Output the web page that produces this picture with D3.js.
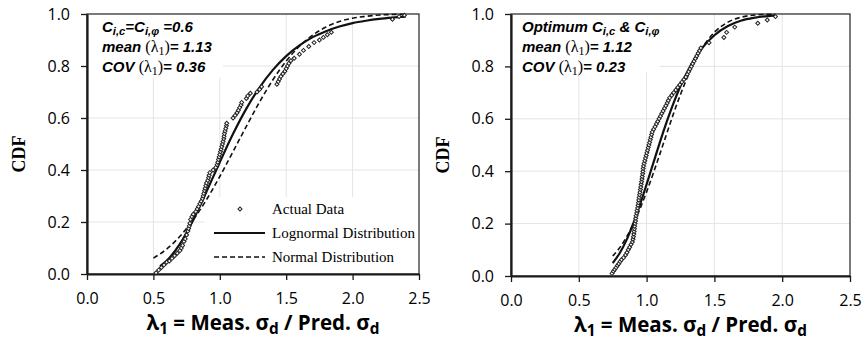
<!DOCTYPE html>
<html>
<head>
<meta charset="utf-8">
<script src="https://cdn.jsdelivr.net/npm/d3@7/dist/d3.min.js"></script>
<style>
  body { margin: 0; background: #fff; }
  svg text { fill: #000; }
</style>
</head>
<body>
<svg id="chart" width="864" height="350"></svg>
<script>
// axis ticks (both panels)
const xTicks = [0, 0.5, 1, 1.5, 2, 2.5];
const yTicks = [0, 0.2, 0.4, 0.6, 0.8, 1.0];

// left panel: C_i,c = C_i,phi = 0.6   [lambda1, CDF]
const leftActual = [
  [0.52,0.005],[0.54,0.015],[0.56,0.025],[0.58,0.035],[0.60,0.045],[0.62,0.05],[0.64,0.06],[0.66,0.07],[0.68,0.08],[0.70,0.09],
  [0.71,0.10],[0.72,0.11],[0.73,0.125],[0.74,0.135],[0.75,0.15],[0.76,0.165],[0.765,0.175],[0.77,0.185],[0.775,0.195],[0.78,0.21],
  [0.79,0.22],[0.80,0.23],[0.82,0.24],[0.83,0.25],[0.84,0.26],[0.85,0.27],
  [0.86,0.28],[0.87,0.29],[0.875,0.30],[0.88,0.31],[0.885,0.32],[0.89,0.33],[0.895,0.34],[0.90,0.35],[0.91,0.36],[0.915,0.37],[0.92,0.38],[0.925,0.39],
  [0.95,0.40],[0.97,0.41],[0.98,0.42],[0.985,0.43],[0.99,0.44],[0.995,0.45],[1.00,0.46],[1.005,0.47],[1.01,0.48],[1.015,0.49],[1.02,0.50],
  [1.025,0.51],[1.03,0.52],[1.032,0.53],[1.035,0.54],[1.04,0.55],[1.045,0.56],[1.05,0.57],[1.052,0.58],
  [1.10,0.60],[1.115,0.61],[1.13,0.62],[1.14,0.63],[1.15,0.64],[1.16,0.65],[1.165,0.66],
  [1.20,0.675],[1.21,0.685],[1.23,0.695],
  [1.28,0.70],[1.30,0.71],[1.315,0.72],
  [1.43,0.73],[1.44,0.74],[1.45,0.75],[1.46,0.76],[1.475,0.77],[1.49,0.78],[1.50,0.79],[1.51,0.80],[1.52,0.81],[1.535,0.82],
  [1.56,0.83],[1.60,0.845],[1.63,0.86],[1.67,0.875],[1.71,0.89],[1.75,0.90],[1.78,0.91],[1.81,0.92],[1.84,0.93],
  [2.30,0.98],[2.35,0.99],[2.39,0.995]
];
const leftLognormal = [
  [0.55,0.030],[0.6,0.051],[0.7,0.116],[0.8,0.208],[0.9,0.317],[1.0,0.430],[1.1,0.539],[1.2,0.636],[1.3,0.718],[1.4,0.785],
  [1.5,0.838],[1.6,0.879],[1.7,0.911],[1.8,0.934],[1.9,0.952],[2.0,0.965],[2.1,0.974],[2.2,0.981],[2.3,0.986],[2.4,0.990]
];
const leftNormal = [
  [0.5,0.061],[0.6,0.096],[0.7,0.145],[0.8,0.209],[0.9,0.286],[1.0,0.375],[1.1,0.471],[1.2,0.568],[1.3,0.662],[1.4,0.747],
  [1.5,0.819],[1.6,0.876],[1.7,0.919],[1.8,0.950],[1.9,0.971],[2.0,0.984],[2.1,0.991],[2.2,0.996],[2.3,0.998],[2.4,0.999]
];
const leftMean = "1.13", leftCov = "0.36";

// right panel: optimum C_i,c & C_i,phi
const rightActual = [
  [0.745,0.01],[0.755,0.018],[0.765,0.025],[0.775,0.032],[0.785,0.04],[0.795,0.047],[0.805,0.055],[0.815,0.062],[0.83,0.07],[0.845,0.08],
  [0.855,0.09],[0.865,0.10],[0.875,0.11],[0.885,0.12],[0.895,0.13],[0.90,0.14],
  [0.903,0.15],[0.906,0.16],[0.908,0.17],[0.91,0.18],[0.912,0.19],[0.915,0.20],[0.918,0.21],[0.92,0.22],[0.923,0.23],[0.927,0.24],
  [0.93,0.25],[0.934,0.26],[0.937,0.27],[0.94,0.28],[0.942,0.29],
  [0.945,0.30],[0.948,0.31],[0.951,0.32],[0.954,0.33],[0.957,0.34],[0.96,0.35],[0.963,0.36],[0.966,0.37],[0.968,0.38],[0.971,0.39],
  [0.973,0.40],[0.975,0.41],[0.977,0.42],
  [0.982,0.43],[0.987,0.44],[0.992,0.45],[0.997,0.46],[1.002,0.47],[1.007,0.48],[1.012,0.49],[1.017,0.50],[1.022,0.51],[1.027,0.52],
  [1.032,0.53],[1.037,0.54],[1.042,0.55],
  [1.052,0.56],[1.062,0.57],[1.072,0.58],[1.082,0.59],[1.092,0.60],[1.102,0.61],[1.112,0.62],[1.122,0.63],[1.132,0.64],[1.142,0.65],
  [1.152,0.66],[1.16,0.67],[1.17,0.68],
  [1.185,0.69],[1.20,0.70],[1.215,0.71],[1.23,0.72],[1.245,0.73],[1.26,0.74],[1.275,0.75],[1.29,0.76],[1.30,0.77],
  [1.31,0.78],[1.32,0.79],[1.33,0.80],[1.34,0.81],[1.35,0.82],[1.36,0.83],[1.37,0.84],[1.38,0.85],[1.39,0.86],[1.40,0.87],
  [1.46,0.89],[1.57,0.91],[1.59,0.93],[1.65,0.95],[1.82,0.965],[1.89,0.977],[1.95,0.99]
];
const rightLognormal = [
  [0.75,0.049],[0.8,0.086],[0.85,0.135],[0.9,0.198],[0.95,0.270],[1.0,0.350],[1.05,0.432],[1.1,0.514],[1.15,0.591],[1.2,0.662],
  [1.25,0.725],[1.3,0.779],[1.4,0.864],[1.5,0.919],[1.6,0.954],[1.7,0.975],[1.8,0.986],[1.95,0.995]
];
const rightNormal = [
  [0.75,0.076],[0.8,0.107],[0.85,0.147],[0.9,0.197],[0.95,0.255],[1.0,0.321],[1.05,0.393],[1.1,0.469],[1.15,0.546],[1.2,0.622],
  [1.25,0.693],[1.3,0.758],[1.4,0.862],[1.5,0.930],[1.6,0.969],[1.7,0.988],[1.8,0.996],[1.95,0.999]
];
const rightMean = "1.12", rightCov = "0.23";

const legendLabels = ["Actual Data", "Lognormal Distribution", "Normal Distribution"];

const svg = d3.select("#chart");
const tickFont = "'Open Sans', 'Noto Sans', sans-serif";
const noteFont = "'Liberation Sans', Arial, sans-serif";
const serif = "'Liberation Serif', 'DejaVu Serif', serif";

function richText(sel, parts) {
  parts.forEach(p => {
    let t = sel.append("tspan").text(p.t);
    if (p.sub) t.attr("baseline-shift", p.shift || "-28%").attr("font-size", p.subSize || "75%");
    if (p.plain) t.attr("font-family", serif).attr("font-weight", "normal").attr("font-style", "normal");
    if (p.size) t.attr("font-size", p.size);
  });
}

function drawPanel(p) {
  var g = svg.append("g");
  var x = d3.scaleLinear().domain([0, 2.5]).range([p.left, p.right]);
  var y = d3.scaleLinear().domain([0, 1]).range([p.bottom, p.top]);

  // gridlines
  g.append("g").selectAll("line.v").data(xTicks.slice(1, -1)).enter().append("line")
    .attr("x1", d => x(d)).attr("x2", d => x(d))
    .attr("y1", y(0)).attr("y2", y(1))
    .attr("stroke", "#e4e4e4").attr("stroke-width", 1);
  g.append("g").selectAll("line.h").data(yTicks.slice(1, -1)).enter().append("line")
    .attr("x1", x(0)).attr("x2", x(2.5))
    .attr("y1", d => y(d)).attr("y2", d => y(d))
    .attr("stroke", "#e4e4e4").attr("stroke-width", 1);

  // note box and legend box hide the grid
  g.append("rect").attr("x", x(0)).attr("y", y(1))
    .attr("width", p.noteW).attr("height", p.noteH).attr("fill", "#fff");
  if (p.legend) {
    g.append("rect").attr("x", p.legend.x).attr("y", p.legend.y)
      .attr("width", x(2.5) - p.legend.x).attr("height", y(0) - p.legend.y).attr("fill", "#fff");
  }

  // frame
  g.append("rect").attr("x", x(0)).attr("y", y(1))
    .attr("width", x(2.5) - x(0)).attr("height", y(0) - y(1))
    .attr("fill", "none").attr("stroke", "#222").attr("stroke-width", 1.2);

  // axes
  var xAxis = d3.axisBottom(x).tickValues(xTicks).tickFormat(d3.format(".1f")).tickSizeInner(6).tickSizeOuter(0).tickPadding(13);
  var yAxis = d3.axisLeft(y).tickValues(yTicks).tickFormat(d3.format(".1f")).tickSizeInner(6).tickSizeOuter(0).tickPadding(11);
  var gx = g.append("g").attr("transform", "translate(0," + y(0) + ")").call(xAxis);
  var gy = g.append("g").attr("transform", "translate(" + x(0) + ",0)").call(yAxis);
  [gx, gy].forEach(a => {
    a.select(".domain").attr("stroke", "#1a1a1a").attr("stroke-width", 2.2);
    a.selectAll(".tick line").attr("stroke", "#1a1a1a").attr("stroke-width", 1.3);
    a.selectAll(".tick text").attr("font-family", tickFont).attr("font-size", 16).attr("fill", "#404040");
  });

  // distributions
  var line = d3.line().x(d => x(d[0])).y(d => y(d[1])).curve(d3.curveMonotoneX);
  g.append("path").datum(p.normal).attr("d", line)
    .attr("fill", "none").attr("stroke", "#111").attr("stroke-width", 1.6).attr("stroke-dasharray", "5,3");
  g.append("path").datum(p.lognormal).attr("d", line)
    .attr("fill", "none").attr("stroke", "#111").attr("stroke-width", 2.2);

  // actual data (small hollow diamonds)
  var diamond = d3.symbol().type(d3.symbolSquare).size(8);
  g.append("g").selectAll("path").data(p.actual).enter().append("path")
    .attr("d", diamond)
    .attr("transform", d => "translate(" + x(d[0]) + "," + y(d[1]) + ") rotate(45)")
    .attr("fill", "#fff").attr("stroke", "#222").attr("stroke-width", 1);

  // note
  var note = g.append("g").attr("font-family", noteFont).attr("font-weight", "bold")
    .attr("font-style", "italic").attr("font-size", 15);
  p.noteLines.forEach((parts, i) => {
    richText(note.append("text").attr("x", x(0) + p.noteDx).attr("y", y(1) + 18 + i * 20), parts);
  });

  // axis titles
  var xt = g.append("text").attr("x", (x(0) + x(2.5)) / 2 + 10).attr("y", y(0) + 56)
    .attr("text-anchor", "middle").attr("font-family", tickFont).attr("font-weight", "bold").attr("font-size", 20.5);
  richText(xt, [{t: "λ"}, {t: "1", sub: true}, {t: " = Meas. σ"}, {t: "d", sub: true}, {t: " / Pred. σ"}, {t: "d", sub: true}]);

  g.append("text").attr("transform", "translate(" + (x(0) - 62) + "," + ((y(0) + y(1)) / 2 + 10) + ") rotate(-90)")
    .attr("text-anchor", "middle").attr("font-family", serif).attr("font-weight", "bold").attr("font-size", 18)
    .text("CDF");

  // legend
  if (p.legend) {
    var lg = g.append("g").attr("font-family", serif).attr("font-size", 15);
    var lx = p.legend.x + 10, rows = [p.legend.y + 12, p.legend.y + 36, p.legend.y + 60];
    lg.append("path").attr("d", diamond)
      .attr("transform", "translate(" + (lx + 26) + "," + rows[0] + ") rotate(45)")
      .attr("fill", "#fff").attr("stroke", "#222").attr("stroke-width", 1);
    lg.append("line").attr("x1", lx).attr("x2", lx + 51).attr("y1", rows[1]).attr("y2", rows[1])
      .attr("stroke", "#111").attr("stroke-width", 2.2);
    lg.append("line").attr("x1", lx).attr("x2", lx + 51).attr("y1", rows[2]).attr("y2", rows[2])
      .attr("stroke", "#111").attr("stroke-width", 1.6).attr("stroke-dasharray", "5,3");
    legendLabels.forEach((l, i) => {
      lg.append("text").attr("x", lx + 58).attr("y", rows[i] + 5).text(l);
    });
  }
}

drawPanel({
  left: 87, right: 419, top: 14, bottom: 274,
  actual: leftActual, lognormal: leftLognormal, normal: leftNormal,
  noteW: 136, noteH: 64, noteDx: 15,
  noteLines: [
    [{t: "C"}, {t: "i,c", sub: true}, {t: "=C"}, {t: "i,φ", sub: true}, {t: " =0.6"}],
    [{t: "mean "}, {t: "(λ", plain: true, size: 16}, {t: "1", sub: true, plain: true, size: 12}, {t: ")", plain: true, size: 16}, {t: "= " + leftMean}],
    [{t: "COV "}, {t: "(λ", plain: true, size: 16}, {t: "1", sub: true, plain: true, size: 12}, {t: ")", plain: true, size: 16}, {t: "= " + leftCov}]
  ],
  legend: {x: 204, y: 197}
});

drawPanel({
  left: 511, right: 850, top: 14, bottom: 276,
  actual: rightActual, lognormal: rightLognormal, normal: rightNormal,
  noteW: 149, noteH: 58, noteDx: 11,
  noteLines: [
    [{t: "Optimum C"}, {t: "i,c", sub: true}, {t: " & C"}, {t: "i,φ", sub: true}],
    [{t: "mean "}, {t: "(λ", plain: true, size: 16}, {t: "1", sub: true, plain: true, size: 12}, {t: ")", plain: true, size: 16}, {t: "= " + rightMean}],
    [{t: "COV "}, {t: "(λ", plain: true, size: 16}, {t: "1", sub: true, plain: true, size: 12}, {t: ")", plain: true, size: 16}, {t: "= " + rightCov}]
  ],
  legend: null
});
</script>
</body>
</html>
